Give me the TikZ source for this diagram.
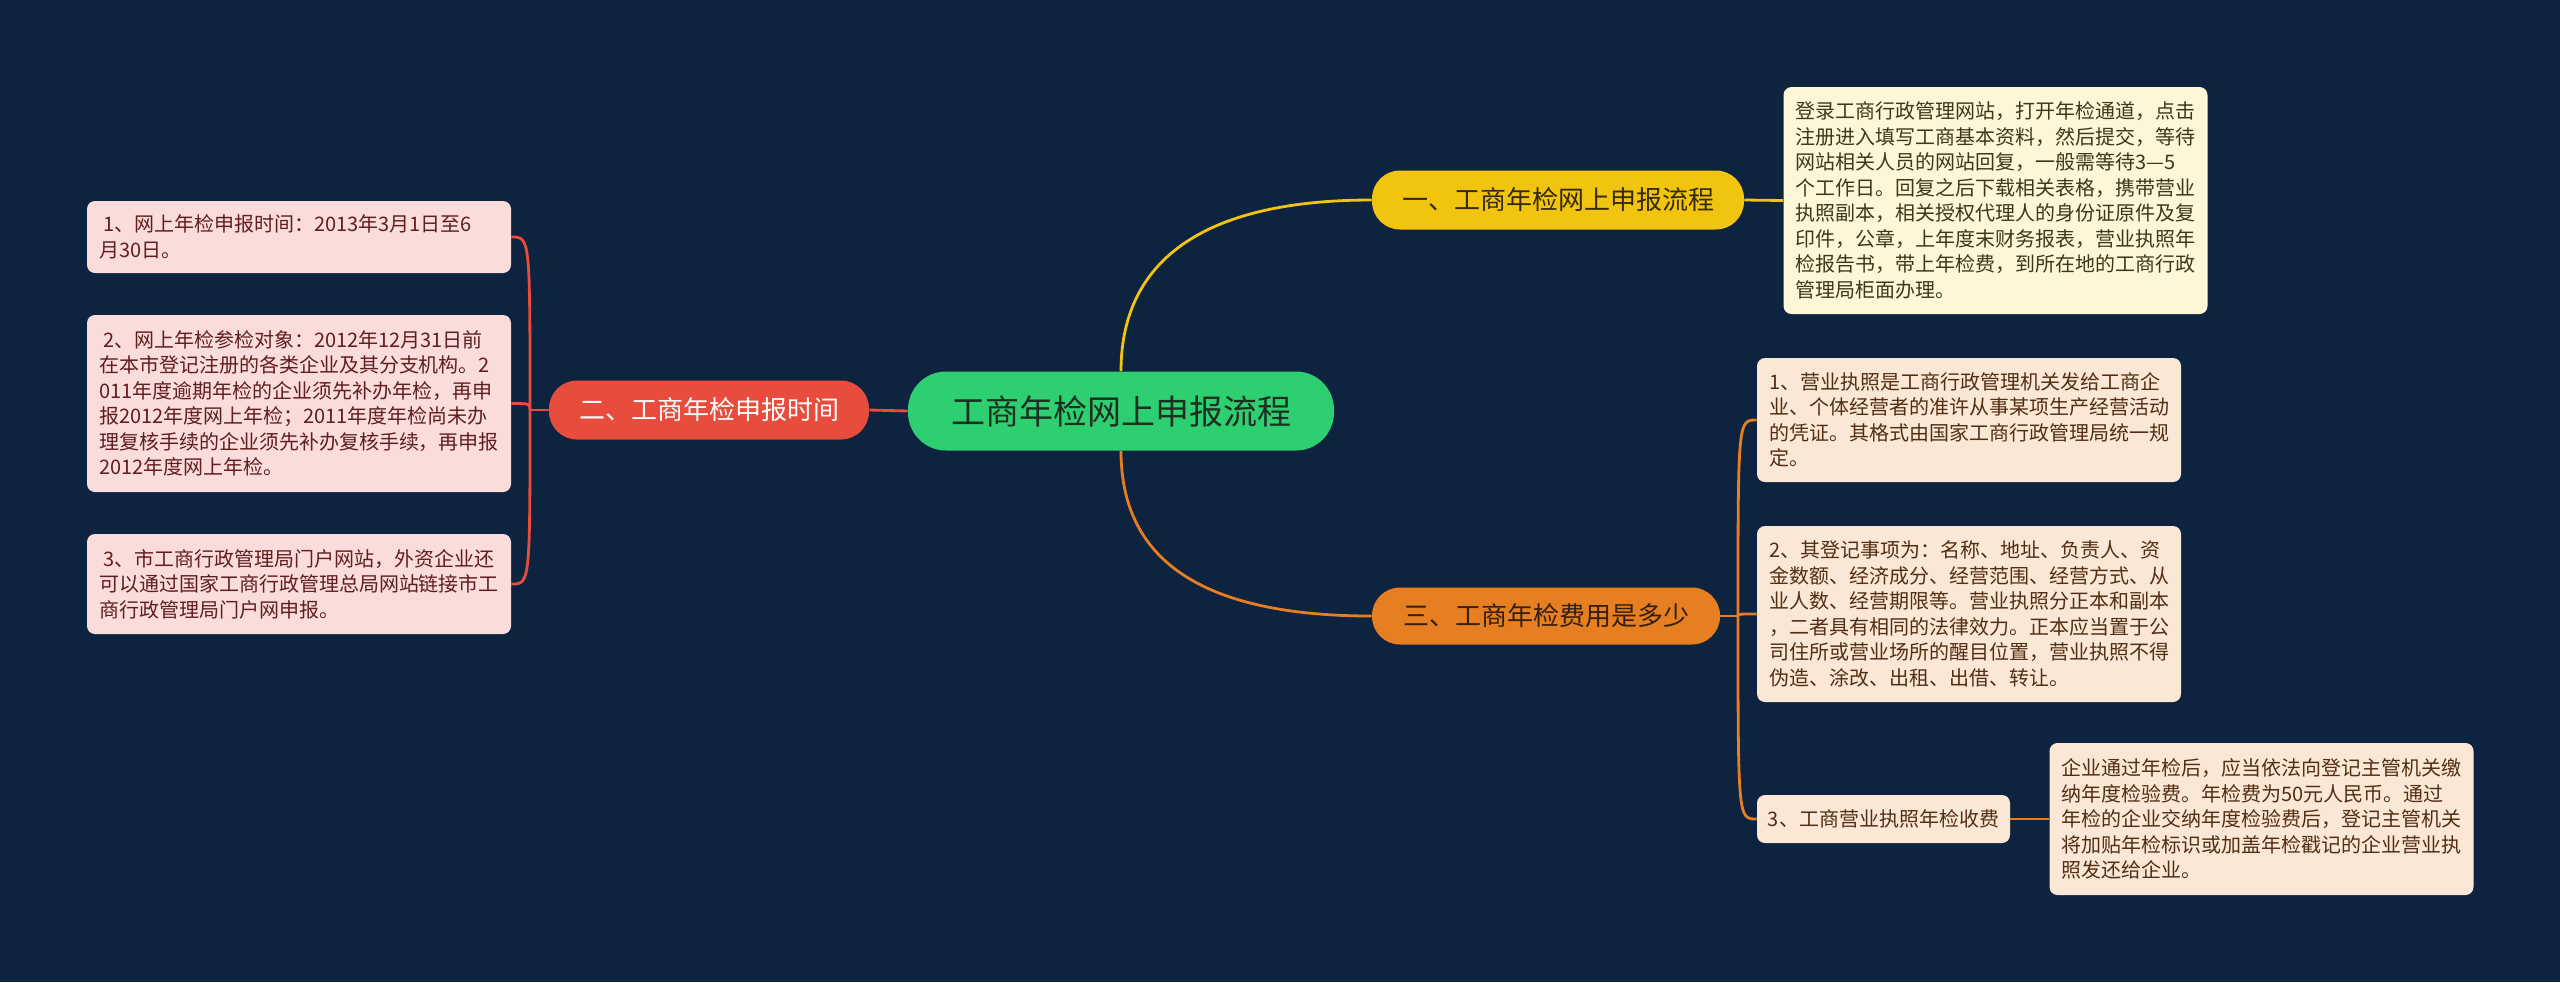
\documentclass[tikz,border=0pt]{standalone}
\usepackage{fontspec}
\setmainfont{Noto Sans CJK SC}
\usetikzlibrary{positioning}

\definecolor{bgnavy}{RGB}{14,35,64}
\definecolor{rootgreen}{RGB}{46,207,113}
\definecolor{rootink}{RGB}{28,48,34}
\definecolor{gold}{RGB}{241,196,15}
\definecolor{goldink}{RGB}{52,42,10}
\definecolor{brick}{RGB}{231,76,60}
\definecolor{amber}{RGB}{230,126,34}
\definecolor{amberink}{RGB}{52,32,12}
\definecolor{creamfill}{RGB}{253,246,215}
\definecolor{pinkfill}{RGB}{250,221,218}
\definecolor{peachfill}{RGB}{251,231,214}
\definecolor{oliveink}{RGB}{62,56,26}
\definecolor{maroonink}{RGB}{96,30,30}
\definecolor{brownink}{RGB}{82,46,20}

\begin{document}
\begin{tikzpicture}[x=0.5pt,y=-0.5pt,
  rootbox/.style={fill=rootgreen,text=rootink,rounded corners=19pt,minimum width=213pt,minimum height=39.5pt,inner sep=0pt,font=\fontsize{17}{20}\selectfont},
  topicbox/.style={rounded corners=14pt,minimum height=29.5pt,inner sep=0pt,font=\fontsize{13}{15}\selectfont},
  leafbox/.style={rounded corners=4pt,inner xsep=6pt,inner ysep=0pt,text width=200pt,align=left,font=\fontsize{10}{12.75}\selectfont},
  goldline/.style={draw=gold,line width=1.4pt},
  brickline/.style={draw=brick,line width=1.4pt},
  amberline/.style={draw=amber,line width=1.4pt}]
\fill[bgnavy] (0,0) rectangle (2560,982);
\useasboundingbox (0,0) rectangle (2560,982);

% centre and main topics
\node[rootbox] (root) at (1121,411) {工商年检网上申报流程};
\node[topicbox,fill=gold,text=goldink,minimum width=186pt] (b1) at (1558,200) {一、工商年检网上申报流程};
\node[topicbox,fill=brick,text=white,minimum width=160pt] (b2) at (709,410) {二、工商年检申报时间};
\node[topicbox,fill=amber,text=amberink,minimum width=174pt,minimum height=28.5pt] (b3) at (1546,616) {三、工商年检费用是多少};

% first topic
\node[leafbox,fill=creamfill,text=oliveink,minimum height=113.5pt] (leaf1) at (1995.5,200.5) {登录工商行政管理网站，打开年检通道，点击\\注册进入填写工商基本资料，然后提交，等待\\网站相关人员的网站回复，一般需等待3—5\\个工作日。回复之后下载相关表格，携带营业\\执照副本，相关授权代理人的身份证原件及复\\印件，公章，上年度末财务报表，营业执照年\\检报告书，带上年检费，到所在地的工商行政\\管理局柜面办理。};

% second topic
\node[leafbox,fill=pinkfill,text=maroonink,minimum height=36pt] (l1) at (299,237) {\hspace*{2pt}1、网上年检申报时间：2013年3月1日至6\\月30日。};
\node[leafbox,fill=pinkfill,text=maroonink,minimum height=88.5pt] (l2) at (299,403.5) {\hspace*{2pt}2、网上年检参检对象：2012年12月31日前\\在本市登记注册的各类企业及其分支机构。2\\011年度逾期年检的企业须先补办年检，再申\\报2012年度网上年检；2011年度年检尚未办\\理复核手续的企业须先补办复核手续，再申报\\2012年度网上年检。};
\node[leafbox,fill=pinkfill,text=maroonink,minimum height=50pt] (l3) at (299,584) {\hspace*{2pt}3、市工商行政管理局门户网站，外资企业还\\可以通过国家工商行政管理总局网站链接市工\\商行政管理局门户网申报。};

% third topic
\node[leafbox,fill=peachfill,text=brownink,minimum height=62pt] (r1) at (1969,420) {1、营业执照是工商行政管理机关发给工商企\\业、个体经营者的准许从事某项生产经营活动\\的凭证。其格式由国家工商行政管理局统一规\\定。};
\node[leafbox,fill=peachfill,text=brownink,minimum height=88pt] (r2) at (1969,614) {2、其登记事项为：名称、地址、负责人、资\\金数额、经济成分、经营范围、经营方式、从\\业人数、经营期限等。营业执照分正本和副本\\，二者具有相同的法律效力。正本应当置于公\\司住所或营业场所的醒目位置，营业执照不得\\伪造、涂改、出租、出借、转让。};
\node[fill=peachfill,text=brownink,rounded corners=4pt,minimum width=126.5pt,minimum height=24pt,inner sep=0pt,font=\fontsize{10}{12}\selectfont] (r3) at (1883.5,819) {3、工商营业执照年检收费};
\node[leafbox,fill=peachfill,text=brownink,minimum height=76pt] (r3x) at (2261.5,819) {企业通过年检后，应当依法向登记主管机关缴\\纳年度检验费。年检费为50元人民币。通过\\年检的企业交纳年度检验费后，登记主管机关\\将加贴年检标识或加盖年检戳记的企业营业执\\照发还给企业。};

% connectors
\draw[goldline] (root.north) .. controls (1121,270) and (1190,200) .. (b1.west);
\draw[amberline] (root.south) .. controls (1121,552) and (1190,616) .. (b3.west);
\draw[brickline] (root.west) -- (b2.east);
\draw[goldline] (b1.east) -- (leaf1.west);

\coordinate (lj) at (530,410);
\draw[brickline] (b2.west) -- (lj);
\foreach \n in {l1,l2,l3}
  \draw[brickline] (lj) .. controls (lj |- \n.east) .. (\n.east);

\coordinate (rj) at (1738,616);
\draw[amberline] (b3.east) -- (rj);
\foreach \n in {r1,r2,r3}
  \draw[amberline] (rj) .. controls (rj |- \n.west) .. (\n.west);
\draw[amberline] (r3.east) -- (r3x.west);
\end{tikzpicture}
\end{document}
